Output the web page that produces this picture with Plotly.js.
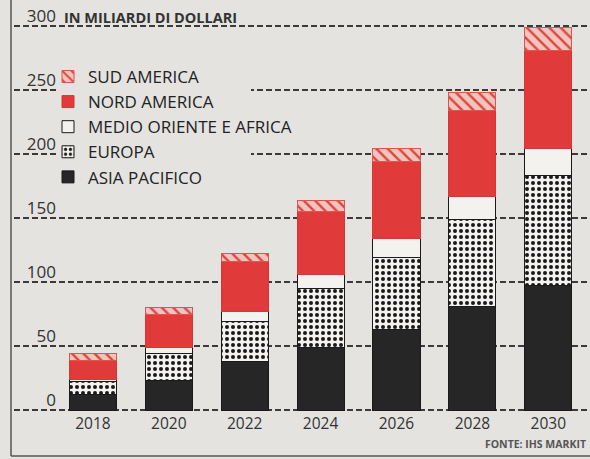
<!DOCTYPE html>
<html>
<head>
<meta charset="utf-8">
<script src="https://cdn.plot.ly/plotly-3.0.1.min.js"></script>
<style>
  html, body { margin: 0; padding: 0; background: #e4e3e0; }
  #chart { width: 590px; height: 459px; }
</style>
</head>
<body>
<div id="chart"></div>
<script>
// ---- data (miliardi di dollari) ----
const years = ['2018', '2020', '2022', '2024', '2026', '2028', '2030'];
const asiaPacifico = [12.5, 23, 38, 49, 63, 81, 97];
const europa = [10, 21, 31, 46, 56, 68, 86];
const medioOrienteAfrica = [1.5, 5, 8, 10.5, 15, 18, 21];
const nordAmerica = [15, 25.5, 39, 49.5, 60, 67, 77];
const sudAmerica = [5, 6, 6, 9, 10, 14, 18];
const yTicks = [0, 50, 100, 150, 200, 250, 300];
const yTickLabels = ['0', '50', '100', '150', '200', '250', '300'];

const PAPER = '#e4e3e0';
const INK = '#2b2b2b';

function bar(name, y, marker, group) {
  return {
    type: 'bar', name: name, x: years, y: y, marker: marker,
    legendgroup: group, hoverinfo: 'skip'
  };
}

const traces = [
  bar('ASIA PACIFICO', asiaPacifico,
      {color: '#262626', line: {color: '#1a1a1a', width: 1}}, 'g1'),
  bar('EUROPA', europa,
      {color: '#f3f2ef', line: {color: '#1a1a1a', width: 1},
       pattern: {shape: '.', fgcolor: '#1a1a1a', bgcolor: '#f3f2ef', size: 6, solidity: 0.35}}, 'g2'),
  bar('MEDIO ORIENTE E AFRICA', medioOrienteAfrica,
      {color: '#f3f2ef', line: {color: '#1a1a1a', width: 1}}, 'g3'),
  bar('NORD AMERICA', nordAmerica,
      {color: '#e03a3a', line: {color: '#d83535', width: 1}}, 'g4'),
  bar('SUD AMERICA', sudAmerica,
      {color: '#f2c4bd', line: {color: '#d9574f', width: 1},
       pattern: {shape: '\\', fgcolor: '#d9473f', bgcolor: '#f2c4bd', size: 8, solidity: 0.3}}, 'g5'),
  // carrier for the left tick-label axis
  {type: 'scatter', x: [], y: [], yaxis: 'y2', showlegend: false, hoverinfo: 'skip'}
];

// geometry: value 300 at pixel y=26, value 0 at pixel y=410
const K = 1.28, Y0PX = 410;
const Y_MIN = -1.5, Y_MAX = 301.5;
const T = Y0PX - Y_MAX * K;
const B = Y0PX - Y_MIN * K;
const H = B - T;
const L = 14, W = 576;
const px = v => (v - L) / W;          // pixel x -> paper x
const py = v => (B - v) / H;          // pixel y -> paper y

const layout = {
  width: 590, height: 459,
  paper_bgcolor: PAPER, plot_bgcolor: PAPER,
  margin: {l: L, r: 0, t: T, b: 459 - B},
  barmode: 'stack', bargap: 0.38,
  font: {family: 'Open Sans, DejaVu Sans, sans-serif', color: INK},
  xaxis: {
    type: 'category', range: [-1.04, 6.55], showgrid: false, showline: false,
    zeroline: false, ticks: '', ticklabelstandoff: 0,
    tickfont: {size: 15.5, color: '#333'}, fixedrange: true
  },
  yaxis: {
    range: [Y_MIN, Y_MAX], tickvals: yTicks, showticklabels: false,
    showgrid: true, gridcolor: '#3a3a3a', gridwidth: 1.2, griddash: '6px,3px',
    zeroline: false, showline: false, fixedrange: true
  },
  yaxis2: {
    overlaying: 'y', anchor: 'free', side: 'left', position: px(56),
    range: [Y_MIN, Y_MAX], tickvals: yTicks, ticktext: yTickLabels,
    showgrid: false, zeroline: false, showline: false, ticks: '',
    ticklabelshift: -10, ticklabelstandoff: 0,
    tickfont: {size: 17, color: '#333'}, fixedrange: true
  },
  legend: {
    x: px(48), y: py(59), xanchor: 'left', yanchor: 'top',
    traceorder: 'reversed', tracegroupgap: 1.5, bgcolor: 'rgba(0,0,0,0)',
    font: {size: 17, color: '#222'}
  },
  shapes: [
    // mask behind the legend (hides gridlines there; no bars in this area)
    {type: 'rect', xref: 'paper', yref: 'paper', layer: 'above',
     x0: px(57), x1: px(251), y0: py(190), y1: py(62),
     fillcolor: PAPER, line: {width: 0}},
    // frame lines
    {type: 'line', xref: 'paper', yref: 'paper', x0: px(11), x1: px(11), y0: py(0), y1: py(456),
     line: {color: '#555', width: 1.5}},
    {type: 'line', xref: 'paper', yref: 'paper', x0: px(11), x1: px(590), y0: py(456), y1: py(456),
     line: {color: '#555', width: 1.5}}
  ],
  annotations: [
    {xref: 'paper', yref: 'paper', x: px(62), y: py(18), xanchor: 'left', yanchor: 'middle',
     text: 'IN MILIARDI DI DOLLARI', showarrow: false,
     font: {size: 14.5, color: '#333', weight: 700}},
    {xref: 'paper', yref: 'paper', x: px(588), y: py(444), xanchor: 'right', yanchor: 'middle',
     text: 'FONTE: IHS MARKIT', showarrow: false,
     font: {size: 10.5, color: '#555', weight: 700}}
  ],
  showlegend: true
};

Plotly.newPlot('chart', traces, layout, {displayModeBar: false, staticPlot: true});
</script>
</body>
</html>
